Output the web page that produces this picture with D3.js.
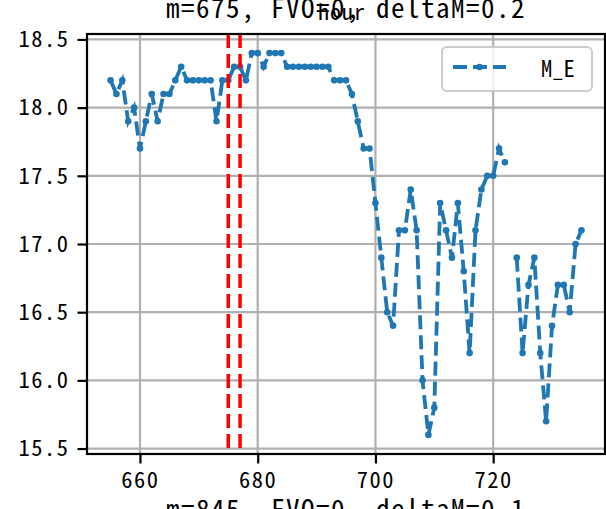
<!DOCTYPE html>
<html lang="en">
<head>
  <meta charset="UTF-8">
  <title>M_E by hour</title>
  <script src="https://d3js.org/d3.v7.min.js"></script>
  <style>
    body {
      margin: 0;
      background: white;
      overflow: hidden;
    }
    svg text {
      font-family: "Noto Sans Mono CJK JP", "Liberation Mono", monospace;
      fill: black;
    }
  </style>
</head>
<body>
  <div id="chart"></div>

  <script>
    const width = 606, height = 509;
    const margin = {top: 34, right: 1, bottom: 55, left: 87};

    // hour and M_E values (723 missing)
    const hours = [655, 656, 657, 658, 659, 660, 661, 662, 663, 664,
                   665, 666, 667, 668, 669, 670, 671, 672, 673, 674,
                   675, 676, 677, 678, 679, 680, 681, 682, 683, 684,
                   685, 686, 687, 688, 689, 690, 691, 692, 693, 694,
                   695, 696, 697, 698, 699, 700, 701, 702, 703, 704,
                   705, 706, 707, 708, 709, 710, 711, 712, 713, 714,
                   715, 716, 717, 718, 719, 720, 721, 722, 723, 724,
                   725, 726, 727, 728, 729, 730, 731, 732, 733, 734, 735];
    const mE = [18.2, 18.1, 18.2, 17.9, 18.0, 17.7, 17.9, 18.1, 17.9, 18.1,
                18.1, 18.2, 18.3, 18.2, 18.2, 18.2, 18.2, 18.2, 17.9, 18.2,
                18.2, 18.3, 18.3, 18.2, 18.4, 18.4, 18.3, 18.4, 18.4, 18.4,
                18.3, 18.3, 18.3, 18.3, 18.3, 18.3, 18.3, 18.3, 18.2, 18.2,
                18.2, 18.1, 17.9, 17.7, 17.7, 17.3, 16.9, 16.5, 16.4, 17.1,
                17.1, 17.4, 17.1, 16.0, 15.6, 15.8, 17.3, 17.1, 16.9, 17.3,
                16.8, 16.2, 17.1, 17.4, 17.5, 17.5, 17.7, 17.6, null, 16.9,
                16.2, 16.7, 16.9, 16.2, 15.7, 16.4, 16.7, 16.7, 16.5, 17.0, 17.1];
    const markerHours = [675, 677];
    const xTicks = [660, 680, 700, 720];
    const yTicks = [15.5, 16.0, 16.5, 17.0, 17.5, 18.0, 18.5];

    const titleText = "m=675, FVO=0, deltaM=0.2";
    const nextTitleText = "m=845, FVO=0, deltaM=0.1";
    const blue = "#1f77b4";

    const svg = d3.select("#chart").append("svg")
        .attr("width", width)
        .attr("height", height);

    const x0 = margin.left, x1 = width - margin.right;
    const y0 = height - margin.bottom, y1 = margin.top;

    // matplotlib style 5% padding
    const xExt = d3.extent(hours);
    const yExt = d3.extent(mE.filter(v => v != null));
    const xPad = (xExt[1] - xExt[0]) * 0.05, yPad = (yExt[1] - yExt[0]) * 0.05;

    const x = d3.scaleLinear().domain([xExt[0] - xPad, xExt[1] + xPad]).range([x0, x1]);
    const y = d3.scaleLinear().domain([yExt[0] - yPad, yExt[1] + yPad]).range([y0, y1]);

    // grid
    svg.append("g").selectAll("line.vx")
      .data(xTicks).join("line")
        .attr("x1", d => x(d)).attr("x2", d => x(d))
        .attr("y1", y0).attr("y2", y1)
        .attr("stroke", "#b0b0b0").attr("stroke-width", 2.2);
    svg.append("g").selectAll("line.hy")
      .data(yTicks).join("line")
        .attr("x1", x0).attr("x2", x1)
        .attr("y1", d => y(d)).attr("y2", d => y(d))
        .attr("stroke", "#b0b0b0").attr("stroke-width", 2.2);

    // data line
    const pts = hours.map((h, i) => ({h, v: mE[i]}));
    const line = d3.line()
        .defined(d => d.v != null)
        .x(d => x(d.h))
        .y(d => y(d.v));

    svg.append("path")
        .datum(pts)
        .attr("d", line)
        .attr("fill", "none")
        .attr("stroke", blue)
        .attr("stroke-width", 3.8)
        .attr("stroke-dasharray", "14,6");

    svg.append("g").selectAll("circle")
      .data(pts.filter(d => d.v != null)).join("circle")
        .attr("cx", d => x(d.h))
        .attr("cy", d => y(d.v))
        .attr("r", 3.3)
        .attr("fill", blue);

    // red markers
    svg.append("g").selectAll("line")
      .data(markerHours).join("line")
        .attr("x1", d => x(d)).attr("x2", d => x(d))
        .attr("y1", y1).attr("y2", y0)
        .attr("stroke", "#ff0000")
        .attr("stroke-width", 3.5)
        .attr("stroke-dasharray", "14,6");

    // axes
    const xAxis = d3.axisBottom(x).tickValues(xTicks).tickSize(9.5).tickPadding(9).tickFormat(d3.format("d"));
    const yAxis = d3.axisLeft(y).tickValues(yTicks).tickSize(9.5).tickPadding(8).tickFormat(d3.format(".1f"));

    const gx = svg.append("g").attr("transform", `translate(0,${y0})`).call(xAxis);
    const gy = svg.append("g").attr("transform", `translate(${x0},0)`).call(yAxis);
    [gx, gy].forEach(g => {
      g.select(".domain").remove();
      g.selectAll(".tick line").attr("stroke", "black").attr("stroke-width", 2.2);
      g.selectAll(".tick text").attr("font-size", 22.5).attr("fill", "black")
          .attr("letter-spacing", "1.5px");
    });

    // frame
    svg.append("rect")
        .attr("x", x0).attr("y", y1)
        .attr("width", x1 - x0).attr("height", y0 - y1)
        .attr("fill", "none")
        .attr("stroke", "black")
        .attr("stroke-width", 2.2);

    // legend
    const lg = svg.append("g").attr("transform", "translate(442,47)");
    lg.append("rect")
        .attr("width", 150).attr("height", 44).attr("rx", 5)
        .attr("fill", "white").attr("fill-opacity", 0.8)
        .attr("stroke", "#cccccc").attr("stroke-width", 2);
    lg.append("line")
        .attr("x1", 11).attr("x2", 64).attr("y1", 20).attr("y2", 20)
        .attr("stroke", blue).attr("stroke-width", 3.8)
        .attr("stroke-dasharray", "14,6");
    lg.append("circle").attr("cx", 37.5).attr("cy", 20).attr("r", 3.3).attr("fill", blue);
    lg.append("text").attr("x", 99).attr("y", 29.5)
        .attr("font-size", 22.5).text("M_E");

    // titles (this subplot and the neighbours, cut by the crop)
    svg.append("text")
        .attr("x", (x0 + x1) / 2).attr("y", 18)
        .attr("text-anchor", "middle").attr("font-size", 27)
        .attr("letter-spacing", "1.5px")
        .text(titleText);
    svg.append("text")
        .attr("x", (x0 + x1) / 2 - 4).attr("y", 20)
        .attr("text-anchor", "middle").attr("font-size", 22)
        .attr("letter-spacing", "1px")
        .text("hour");
    svg.append("text")
        .attr("x", (x0 + x1) / 2).attr("y", 519)
        .attr("text-anchor", "middle").attr("font-size", 27)
        .attr("letter-spacing", "1.5px")
        .text(nextTitleText);
  </script>
</body>
</html>
